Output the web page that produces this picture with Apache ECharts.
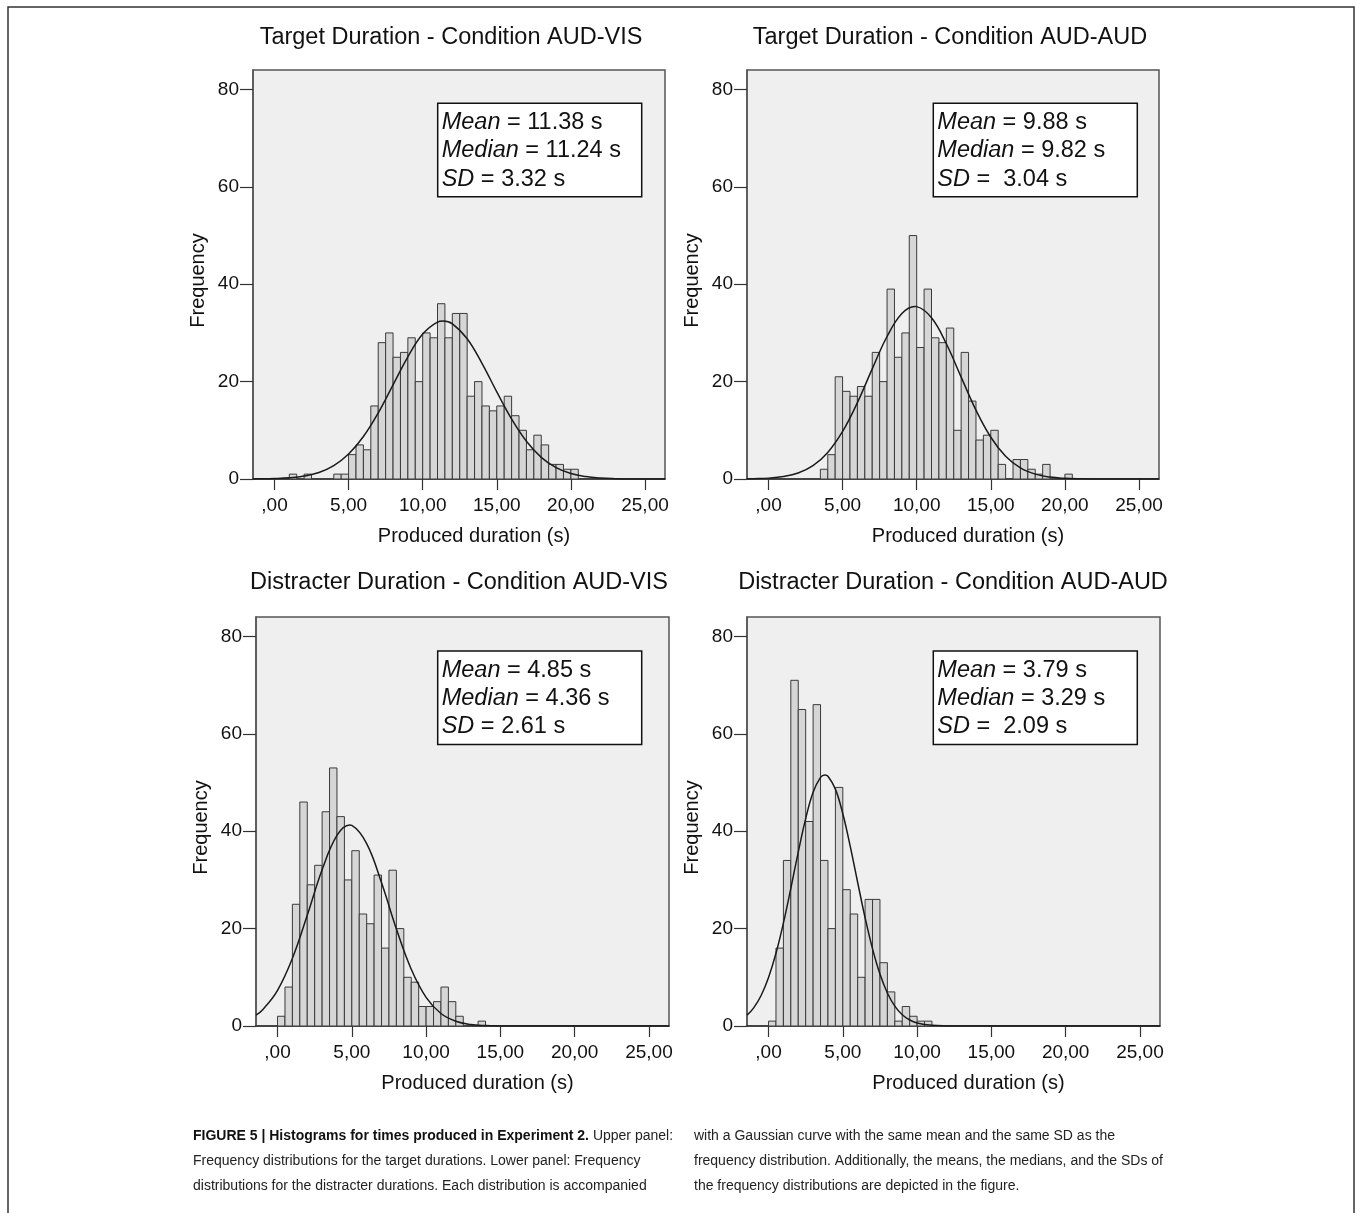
<!DOCTYPE html>
<html>
<head>
<meta charset="utf-8">
<script src="https://cdn.jsdelivr.net/npm/echarts@6/dist/echarts.min.js"></script>
<style>
  html, body { margin: 0; padding: 0; background: #fff; }
  #chart { width: 1356px; height: 1213px; }
</style>
</head>
<body>
<div id="chart"></div>
<script>
// panel titles
var titles = [
  "Target Duration - Condition AUD-VIS",
  "Target Duration - Condition AUD-AUD",
  "Distracter Duration - Condition AUD-VIS",
  "Distracter Duration - Condition AUD-AUD"
];

// histogram counts, bins 0.5 s wide, first bin lower edge in binStarts
var binWidth = 0.5;
var binStarts = [1.0, 3.5, 0.0, 0.0];
var targetVisCounts = [1, 0, 1, 0, 0, 0, 1, 1, 5, 7, 6, 15, 28, 30, 25, 26, 29, 20, 30, 29, 36, 29, 34, 34, 17, 20, 15, 14, 15, 17, 13, 10, 6, 9, 7, 3, 3, 2, 2];
var targetAudCounts = [2, 5, 21, 18, 17, 19, 17, 26, 20, 39, 25, 30, 50, 27, 39, 29, 28, 31, 10, 26, 16, 8, 9, 10, 3, 0, 4, 4, 2, 1, 3, 0, 0, 1];
var distVisCounts = [2, 8, 25, 46, 29, 33, 44, 53, 43, 30, 36, 23, 21, 31, 16, 32, 20, 10, 9, 4, 4, 5, 8, 5, 2, 0, 0, 1];
var distAudCounts = [1, 16, 34, 71, 65, 42, 66, 34, 20, 49, 28, 23, 10, 26, 26, 13, 7, 1, 4, 2, 1, 1];

// gaussian curves: [duration, frequency]
var targetVisCurve = [[-1.45, 0.02], [-1, 0.03], [0, 0.09], [1, 0.24], [2, 0.6], [3, 1.34], [4, 2.74], [5, 5.12], [6, 8.73], [7, 13.59], [8, 19.33], [9, 25.09], [10, 29.76], [11, 32.23], [11.38, 32.44], [12, 31.88], [13, 28.8], [14, 23.76], [15, 17.9], [16, 12.32], [17, 7.74], [18, 4.44], [19, 2.33], [20, 1.12], [21, 0.49], [22, 0.19], [23, 0.07], [24, 0.02], [25, 0.01], [26.35, 0]];
var targetAudCurve = [[-1.45, 0.03], [-1, 0.06], [0, 0.18], [1, 0.5], [2, 1.23], [3, 2.74], [4, 5.46], [5, 9.77], [6, 15.69], [7, 22.62], [8, 29.27], [9, 33.98], [9.88, 35.43], [10, 35.4], [11, 33.11], [12, 27.78], [13, 20.93], [14, 14.14], [15, 8.58], [16, 4.67], [17, 2.28], [18, 1.0], [19, 0.39], [20, 0.14], [21, 0.04], [22, 0.01], [23, 0], [26.35, 0]];
var distVisCurve = [[-1.45, 2.24], [-1, 3.35], [0, 7.34], [1, 13.9], [2, 22.74], [3, 32.1], [4, 39.14], [4.85, 41.27], [5, 41.2], [6, 37.45], [7, 29.4], [8, 19.93], [9, 11.66], [10, 5.89], [11, 2.57], [12, 0.97], [13, 0.31], [14, 0.09], [15, 0.02], [16, 0], [26.35, 0]];
var distAudCurve = [[-1.45, 2.22], [-1, 3.73], [-0.5, 6.27], [0, 9.96], [0.5, 14.93], [1, 21.14], [1.5, 28.28], [2, 35.72], [2.5, 42.6], [3, 47.99], [3.5, 51.05], [3.79, 51.54], [4, 51.28], [4.5, 48.65], [5, 43.59], [5.5, 36.88], [6, 29.47], [6.5, 22.23], [7, 15.85], [7.5, 10.67], [8, 6.78], [8.5, 4.07], [9, 2.3], [9.5, 1.23], [10, 0.62], [11, 0.13], [12, 0.02], [13, 0], [26.35, 0]];

// stats shown in the boxes
var meanText = ["11.38", "9.88", "4.85", "3.79"];
var medianText = ["11.24", "9.82", "4.36", "3.29"];
var sdText = ["3.32", " 3.04", "2.61", " 2.09"];

// axis ticks
var xTickValues = [0, 5, 10, 15, 20, 25];
var xTickLabels = [",00", "5,00", "10,00", "15,00", "20,00", "25,00"];
var yTickValues = [0, 20, 40, 60, 80];

var counts = [targetVisCounts, targetAudCounts, distVisCounts, distAudCounts];
var curves = [targetVisCurve, targetAudCurve, distVisCurve, distAudCurve];

// layout
var FONT = "'Liberation Sans', Arial, sans-serif";
var grids = [
  { left: 253, top: 70, width: 412, height: 409 },
  { left: 747, top: 70, width: 412, height: 409 },
  { left: 256, top: 617, width: 413, height: 409 },
  { left: 747, top: 617, width: 413, height: 409 }
];
var titlePos = [[451, 26], [950, 26], [459, 571], [953, 571]];
var boxPos = [[437.7, 103.3], [933.3, 103.3], [437.7, 651], [933.3, 651]];

var myChart = echarts.init(document.getElementById("chart"), null, { renderer: "canvas" });

var option = {
  backgroundColor: "#fff",
  animation: false,
  textStyle: { fontFamily: FONT },
  title: [],
  grid: [],
  xAxis: [],
  yAxis: [],
  series: [],
  graphic: []
};

for (var i = 0; i < 4; i++) {
  option.title.push({
    text: titles[i],
    left: titlePos[i][0],
    top: titlePos[i][1],
    textAlign: "center",
    padding: 0,
    textStyle: { fontSize: 23.5, fontWeight: "normal", color: "#111", fontFamily: FONT }
  });

  option.grid.push({
    left: grids[i].left,
    top: grids[i].top,
    width: grids[i].width,
    height: grids[i].height,
    show: true,
    backgroundColor: "#efefef",
    borderColor: "#555",
    borderWidth: 1.5
  });

  option.xAxis.push({
    gridIndex: i,
    type: "value",
    min: -1.45,
    max: 26.35,
    axisLine: { show: true, onZero: false, lineStyle: { color: "#333", width: 1.5 } },
    axisTick: { show: true, customValues: xTickValues, length: 11, lineStyle: { color: "#333", width: 1.2 } },
    axisLabel: {
      customValues: xTickValues,
      margin: 17,
      fontSize: 19,
      color: "#111",
      fontFamily: FONT,
      formatter: function (v) {
        var k = xTickValues.indexOf(v);
        return k >= 0 ? xTickLabels[k] : "";
      }
    },
    splitLine: { show: false },
    name: "Produced duration (s)",
    nameLocation: "middle",
    nameGap: 47,
    nameTextStyle: { fontSize: 20, color: "#111", fontFamily: FONT, padding: [0, 0, 0, 30] }
  });

  option.yAxis.push({
    gridIndex: i,
    type: "value",
    min: 0,
    max: 84,
    axisLine: { show: true, onZero: false, lineStyle: { color: "#555", width: 1.5 } },
    axisTick: { show: true, customValues: yTickValues, length: 13, lineStyle: { color: "#333", width: 1.2 } },
    axisLabel: { customValues: yTickValues, margin: 14, fontSize: 19, color: "#111", fontFamily: FONT },
    splitLine: { show: false },
    name: "Frequency",
    nameLocation: "middle",
    nameGap: 45,
    nameTextStyle: { fontSize: 20, color: "#111", fontFamily: FONT, padding: [0, 12, 0, 0] }
  });

  var start = binStarts[i];
  option.series.push({
    type: "custom",
    xAxisIndex: i,
    yAxisIndex: i,
    clip: true,
    encode: { x: 0, y: 1 },
    data: counts[i].map(function (c, k) { return [start + k * binWidth, c]; }),
    renderItem: function (params, api) {
      var x0 = api.value(0);
      var h = api.value(1);
      if (!h) return null;
      var p0 = api.coord([x0, h]);
      var p1 = api.coord([x0 + binWidth, 0]);
      return {
        type: "rect",
        shape: { x: p0[0], y: p0[1], width: p1[0] - p0[0], height: p1[1] - p0[1] },
        style: { fill: "#d6d6d6", stroke: "#3a3a3a", lineWidth: 1 }
      };
    },
    z: 2
  });

  option.series.push({
    type: "line",
    xAxisIndex: i,
    yAxisIndex: i,
    data: curves[i],
    showSymbol: false,
    smooth: 0.4,
    clip: true,
    lineStyle: { color: "#1a1a1a", width: 1.5 },
    z: 3
  });

  option.graphic.push({
    type: "rect",
    shape: { x: boxPos[i][0], y: boxPos[i][1], width: 204, height: 93.4 },
    style: { fill: "#fff", stroke: "#111", lineWidth: 1.5 },
    z: 10
  });
  option.graphic.push({
    type: "text",
    x: boxPos[i][0] + 4,
    y: boxPos[i][1] + 5,
    z: 11,
    style: {
      text: "{i|Mean} = " + meanText[i] + " s\n{i|Median} = " + medianText[i] + " s\n{i|SD} = " + sdText[i] + " s",
      font: "23.5px " + FONT,
      fill: "#111",
      lineHeight: 28.3,
      rich: {
        i: { fontStyle: "italic", fontSize: 23.5, fontFamily: FONT, fill: "#111", lineHeight: 28.3 }
      }
    }
  });
}

// figure frame
option.graphic.push({
  type: "rect",
  shape: { x: 8, y: 7, width: 1346, height: 1230 },
  style: { fill: "none", stroke: "#333", lineWidth: 1.5 },
  z: 1
});

// caption
option.graphic.push({
  type: "text",
  x: 193,
  y: 1123.5,
  style: {
    text: "{b|FIGURE 5 | Histograms for times produced in Experiment 2.} Upper panel:\nFrequency distributions for the target durations. Lower panel: Frequency\ndistributions for the distracter durations. Each distribution is accompanied",
    font: "14px " + FONT,
    fill: "#222",
    lineHeight: 25,
    rich: { b: { fontWeight: "bold", fontSize: 14, fontFamily: FONT, fill: "#111", lineHeight: 25 } }
  }
});
option.graphic.push({
  type: "text",
  x: 694,
  y: 1123.5,
  style: {
    text: "with a Gaussian curve with the same mean and the same SD as the\nfrequency distribution. Additionally, the means, the medians, and the SDs of\nthe frequency distributions are depicted in the figure.",
    font: "14px " + FONT,
    fill: "#222",
    lineHeight: 25
  }
});

myChart.setOption(option);
window.addEventListener("resize", function () { myChart.resize(); });
</script>
</body>
</html>
